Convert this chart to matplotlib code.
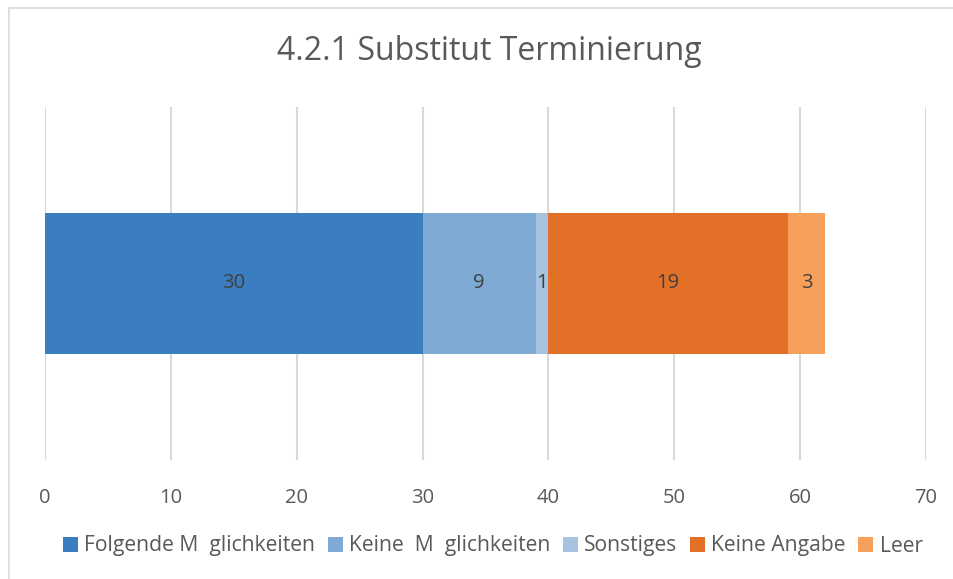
import matplotlib
matplotlib.use("Agg")
import matplotlib.pyplot as plt
from matplotlib.patches import Rectangle, Patch

categories = ["Folgende M  glichkeiten", "Keine  M  glichkeiten", "Sonstiges", "Keine Angabe", "Leer"]
values = [30, 9, 1, 19, 3]
colors = ["#3A7DC0", "#7FAAD3", "#A6C4E1", "#E37027", "#F7A05C"]
xticks = [0, 10, 20, 30, 40, 50, 60, 70]
title = "4.2.1 Substitut Terminierung"

plt.rcParams['font.family'] = ['Open Sans', 'DejaVu Sans']
txt = "#595959"

fig = plt.figure(figsize=(9.54, 5.79), dpi=100)
W, H = 954, 579
ax = fig.add_axes([45 / W, 1 - 460 / H, (926 - 45) / W, (460 - 107) / H])

left = 0
for cat, v, c in zip(categories, values, colors):
    ax.barh(0, v, left=left, height=0.4, color=c, label=cat, zorder=3)
    ax.text(left + v / 2, 0, str(v), ha="center", va="center", fontsize=14.5, color="#404040", zorder=4)
    left += v

ax.set_xlim(0, 70)
ax.set_ylim(-0.5, 0.5)
ax.set_xticks(xticks)
ax.set_xticklabels([str(t) for t in xticks], fontsize=14.5, color=txt)
ax.set_yticks([])
ax.tick_params(axis="x", length=0, pad=20)
ax.grid(axis="x", color="#D9D9D9", linewidth=1.5, zorder=0)
for s in ax.spines.values():
    s.set_visible(False)

fig.text(489 / W, 1 - 52 / H, title, ha="center", va="center", fontsize=23, color=txt)

handles = [Patch(facecolor=c, label=cat) for cat, c in zip(categories, colors)]
leg = fig.legend(handles=handles, loc="center", bbox_to_anchor=(493 / W, 1 - 546 / H), ncol=5,
                 frameon=False, fontsize=15.2, handlelength=0.7, handleheight=0.7,
                 handletextpad=0.3, columnspacing=0.6)
for t in leg.get_texts():
    t.set_color(txt)

fig.patches.append(Rectangle((9 / W, -0.05), 1.1, 1 - 8 / H + 0.05, transform=fig.transFigure,
                             fill=False, edgecolor="#D9D9D9", linewidth=1.2))

fig.savefig("out.png", dpi=100)
